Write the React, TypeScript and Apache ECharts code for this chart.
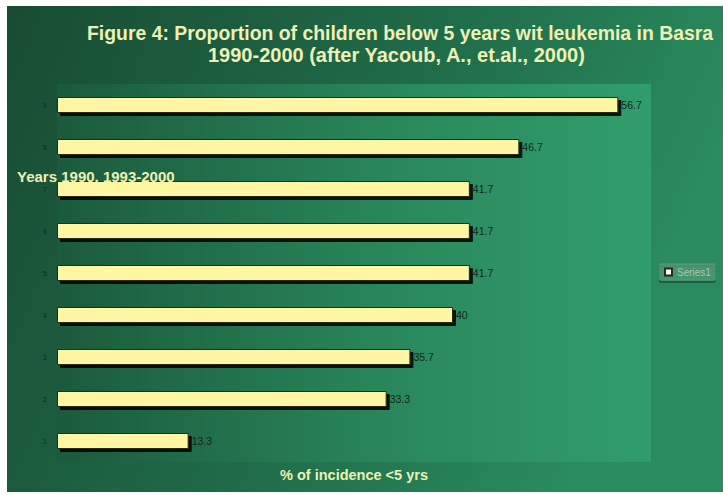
import React, { useEffect, useRef } from "react";
import * as echarts from "echarts";

const categories = ["1", "2", "3", "4", "5", "6", "7", "8", "9"];
const values = [13.3, 33.3, 35.7, 40, 41.7, 41.7, 41.7, 46.7, 56.7];
const seriesName = "Series1";
const titleLine1 = "Figure 4: Proportion of children below 5 years wit leukemia in Basra";
const titleLine2 = "1990-2000 (after Yacoub, A., et.al., 2000)";
const yAxisName = "Years 1990, 1993-2000";
const xAxisName = "% of incidence <5 yrs";

export default function App() {
  const ref = useRef<HTMLDivElement>(null);
  useEffect(() => {
    if (!ref.current) return;
    const chart = echarts.init(ref.current, null, { renderer: "svg" });
    const cream = "#eef0b4";
    const ff = "Liberation Sans, Arial, sans-serif";
    chart.setOption({
      animation: false,
      backgroundColor: new echarts.graphic.LinearGradient(0, 0, 1, 0.3, [
        { offset: 0, color: "#184c33" },
        { offset: 0.55, color: "#1f6a48" },
        { offset: 1, color: "#2a8c5e" },
      ]),
      title: [
        {
          text: titleLine1,
          left: 75,
          top: 12,
          textStyle: { color: cream, fontSize: 19.4, fontWeight: "bold", fontFamily: ff },
        },
        {
          text: titleLine2,
          left: 196,
          top: 34,
          textStyle: { color: cream, fontSize: 20, fontWeight: "bold", fontFamily: ff },
        },
      ],
      legend: {
        data: [seriesName],
        left: 653,
        top: 258,
        icon: "rect",
        itemWidth: 7,
        itemHeight: 7,
        padding: [3, 4],
        backgroundColor: "rgba(255,255,255,0.10)",
        borderColor: "#5f9c7a",
        borderWidth: 1,
        shadowColor: "rgba(0,0,0,0.6)",
        shadowOffsetY: 2,
        textStyle: { color: "#a9c8ac", fontSize: 10, fontFamily: ff },
        itemStyle: { color: "#ffffff" },
      },
      grid: {
        left: 50,
        right: 72,
        top: 78,
        height: 378,
        show: true,
        borderWidth: 0,
        backgroundColor: new echarts.graphic.LinearGradient(0, 0, 1, 0, [
          { offset: 0, color: "#1b5a3c" },
          { offset: 0.6, color: "#2a8a5d" },
          { offset: 1, color: "#319d6c" },
        ]),
      },
      xAxis: {
        type: "value",
        min: 0,
        max: 60,
        axisLine: { show: false },
        axisTick: { show: false },
        axisLabel: { show: false },
        splitLine: { show: false },
        name: xAxisName,
        nameLocation: "middle",
        nameGap: 5,
        nameTextStyle: { color: cream, fontSize: 14.5, fontWeight: "bold", fontFamily: ff, verticalAlign: "top" },
      },
      yAxis: {
        type: "category",
        data: categories,
        axisLine: { show: false },
        axisTick: { show: false },
        axisLabel: { color: "#0e2a1b", fontSize: 7, margin: 10 },
      },
      series: [
        {
          name: seriesName,
          type: "bar",
          data: values,
          barWidth: 16,
          itemStyle: {
            color: "#fff6a4",
            borderColor: "#2b2a12",
            borderWidth: 1,
            shadowColor: "rgba(0,0,0,0.85)",
            shadowOffsetX: 3,
            shadowOffsetY: 3,
            shadowBlur: 1,
          },
          label: {
            show: true,
            position: "right",
            distance: 3,
            color: "#13261a",
            fontSize: 10.5,
            fontFamily: ff,
          },
        },
      ],
      graphic: [
        {
          type: "text",
          left: 10,
          top: 163,
          z: 100,
          style: {
            text: yAxisName,
            fill: cream,
            font: "bold 15px Liberation Sans, Arial, sans-serif",
          },
        },
      ],
    });
    return () => chart.dispose();
  }, []);
  return (
    <div
      ref={ref}
      style={{ position: "absolute", left: 7, top: 6, width: 716, height: 486 }}
    />
  );
}
